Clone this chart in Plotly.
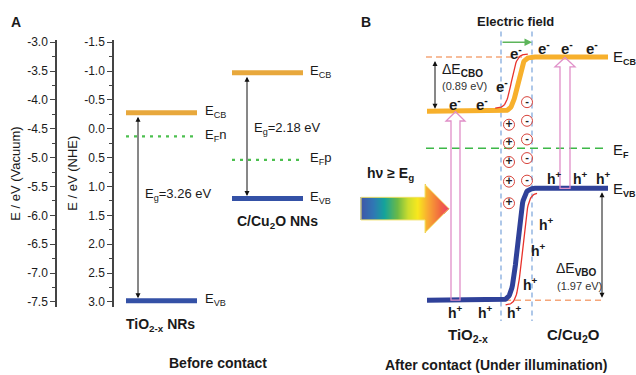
import numpy as np
import plotly.graph_objects as go

W, H = 636, 375
FONT = "Arial, Liberation Sans, sans-serif"
INK = "#1a1a1a"

# ---------------- DATA ----------------
# Panel A: band-edge positions (eV vs NHE) before contact
materials = ["TiO<sub>2-x</sub> NRs", "C/Cu<sub>2</sub>O NNs"]
cb_nhe = [-0.28, -0.97]
vb_nhe = [2.98, 1.21]
ef_nhe = [0.13, 0.54]
ef_tags = ["n", "p"]
band_gaps = [3.26, 2.18]
nhe_ticks = [-1.5, -1.0, -0.5, 0.0, 0.5, 1.0, 1.5, 2.0, 2.5, 3.0]
nhe_labels = ["-1.5", "-1.0", "-0.5", "0.0", "0.5", "1.0", "1.5", "2.0", "2.5", "3.0"]
vac_ticks = [-3.0, -3.5, -4.0, -4.5, -5.0, -5.5, -6.0, -6.5, -7.0, -7.5]
vac_labels = ["-3.0", "-3.5", "-4.0", "-4.5", "-5.0", "-5.5", "-6.0", "-6.5", "-7.0", "-7.5"]

# Panel B: schematic band edges after contact (eV relative to E_F)
b_cb = [-0.63, -1.55]      # TiO2-x, C/Cu2O
b_vb = [2.58, 0.68]
b_offsets = [0.89, 1.97]   # dE_CBO, dE_VBO
b_labels = ["TiO<sub>2-x</sub>", "C/Cu<sub>2</sub>O"]

# ---------------- LAYOUT HELPERS ----------------
NHE_PX = 58.78            # px per eV on panel-A axis
A_TOP, A_BOT = 36, 308    # axis extent (px rows)
nhe_top = -1.5 - (38 - A_TOP) / NHE_PX
nhe_bot = 3.0 + (A_BOT - 302.5) / NHE_PX
B_PX, EF_Y = 60.0, 146.0  # panel-B scale and E_F row


def bv(ypx):
    return (np.asarray(ypx, dtype=float) - EF_Y) / B_PX


def P(xp, yp):
    return xp / W, 1 - yp / H


C_CB_A, C_VB_A, C_EF_A = "#E8A83C", "#3451A6", "#4CC04F"
C_CB_B, C_VB_B = "#F7B02C", "#2F4199"
C_EF_B, C_ORD, C_BLD, C_PINK, C_RED = "#3DB848", "#F5A67A", "#79A3DA", "#E08FC8", "#E8322B"

fig = go.Figure()


def line(x, y, color, width, dash=None, yaxis="y3"):
    fig.add_trace(go.Scatter(x=x, y=y, mode="lines", xaxis="x", yaxis=yaxis,
                             line=dict(color=color, width=width, dash=dash),
                             hoverinfo="skip", showlegend=False))


annots = []


def text(xp, yp, s, size=13, bold=False, xanchor="center", color=INK, angle=0):
    x, y = P(xp, yp)
    annots.append(dict(x=x, y=y, xref="paper", yref="paper", text=(f"<b>{s}</b>" if bold else s),
                       showarrow=False, xanchor=xanchor, yanchor="middle", textangle=angle,
                       font=dict(family=FONT, size=size, color=color)))


def darrow(x, y0, y1, yref, color="#111", both=True, width=1.0):
    annots.append(dict(x=x, y=y1, ax=x, ay=y0, xref="x", yref=yref, axref="x", ayref=yref,
                       text="", showarrow=True, arrowhead=2, arrowsize=1, arrowwidth=width,
                       arrowcolor=color, arrowside="end+start" if both else "end",
                       standoff=2.5, startstandoff=2.5))


def sub(s, px=9, bold=True):
    inner = f"<b>{s}</b>" if bold else s
    return f"<sub><span style='font-size:{px}px'>{inner}</span></sub>"


# ---------------- PANEL A ----------------
bar_x = [(126, 197), (232, 303)]
arrow_x = [138, 247]
label_x = [203, 308]
eg_pos = [(143, 193), (252, 126)]
name_pos = [(160, 326), (277, 221)]
for i in range(2):
    x0, x1 = bar_x[i]
    line([x0, x1], [cb_nhe[i]] * 2, C_CB_A, 5, yaxis="y")
    line([x0, x1], [vb_nhe[i]] * 2, C_VB_A, 5, yaxis="y")
    line([x0, x1 - 2], [ef_nhe[i]] * 2, C_EF_A, 2.2, dash="3px,5px", yaxis="y")
    darrow(arrow_x[i], cb_nhe[i], vb_nhe[i], "y")
    for val, lab in [(cb_nhe[i], "E<sub>CB</sub>"), (vb_nhe[i], "E<sub>VB</sub>"),
                     (ef_nhe[i], "E<sub>F</sub>" + ef_tags[i])]:
        annots.append(dict(x=label_x[i], y=val, xref="x", yref="y", text=lab, showarrow=False,
                           xanchor="left", yanchor="middle", yshift=1,
                           font=dict(family=FONT, size=13, color=INK)))
    text(eg_pos[i][0], eg_pos[i][1], f"E<sub>g</sub>={band_gaps[i]:.2f} eV", 13, xanchor="left")
    text(name_pos[i][0], name_pos[i][1], materials[i], 14, bold=True)

# dummy trace so the vacuum axis is drawn
fig.add_trace(go.Scatter(x=[None], y=[None], xaxis="x", yaxis="y2", showlegend=False, hoverinfo="skip"))

text(16, 17, "A", 14, bold=True)
text(16, 172, "E / eV (Vacuum)", 13, angle=-90)
text(73, 172, "E / eV (NHE)", 13, angle=-90)
text(218, 365, "Before contact", 14, bold=True)

# ---------------- PANEL B ----------------
# depletion-region borders
for xv in (501, 532):
    line([xv, xv], bv([27, 322]), C_BLD, 1.2, dash="5px,4px")

# reference dashed lines
line([426, 533], [b_cb[1]] * 2, C_ORD, 1.6, dash="6px,4px")
line([505, 604], [b_vb[0]] * 2, C_ORD, 1.6, dash="6px,4px")
line([426, 607], [0, 0], C_EF_B, 1.6, dash="8px,5px")

# band bending curves
t = np.linspace(0, 1, 60)
k = 6.5
s = (np.tanh((t - 0.5) * k) / np.tanh(0.5 * k) + 1) / 2
cx = 500 + 35 * t
cb_curve = b_cb[0] + (b_cb[1] - b_cb[0]) * s
vb_curve = b_vb[0] + (b_vb[1] - b_vb[0]) * s
line([427] + list(cx) + [608], [b_cb[0]] + list(cb_curve) + [b_cb[1]], C_CB_B, 5)
line([427] + list(cx) + [608], [b_vb[0]] + list(vb_curve) + [b_vb[1]], C_VB_B, 5)

# electron / hole drift arrows (red)
rx = cx - 6
ry = cb_curve - 0.05
line(list(rx[2:-2]), list(ry[2:-2]), C_RED, 1.3)
annots.append(dict(x=rx[0], y=ry[0], ax=rx[4], ay=ry[4], xref="x", yref="y3", axref="x", ayref="y3",
                   text="", showarrow=True, arrowhead=2, arrowsize=1.1, arrowwidth=1.3, arrowcolor=C_RED))
hx = cx + 5
hy = vb_curve + 0.08
line(list(hx[1:-5]), list(hy[1:-5]), C_RED, 1.3)
annots.append(dict(x=hx[-3], y=hy[-3], ax=hx[-7], ay=hy[-7], xref="x", yref="y3", axref="x", ayref="y3",
                   text="", showarrow=True, arrowhead=2, arrowsize=1.1, arrowwidth=1.3, arrowcolor=C_RED))

# hollow excitation arrows
shapes = []
for (xc, shaft, head), cb, vb in [((455.5, 4.5, 9.5), b_cb[0], b_vb[0]), ((565, 5, 10), b_cb[1], b_vb[1])]:
    base = cb + 10 / B_PX
    path = (f"M {xc-shaft},{vb} L {xc-shaft},{base} L {xc-head},{base} L {xc},{cb + 0.5/B_PX} "
            f"L {xc+head},{base} L {xc+shaft},{base} L {xc+shaft},{vb} Z")
    shapes.append(dict(type="path", path=path, xref="x", yref="y3",
                       line=dict(color=C_PINK, width=1.3), fillcolor="rgba(0,0,0,0)"))

# offsets
darrow(435, b_cb[1], b_cb[0], "y3")
darrow(602, b_vb[1], b_vb[0], "y3")

# space charges
plus_y = [122, 141, 160, 180, 202]
minus_y = [99, 118, 137, 156, 179]
for xs_, ys_, sym in [(509, plus_y, "+"), (527, minus_y, "-")]:
    fig.add_trace(go.Scatter(x=[xs_] * len(ys_), y=bv(ys_), mode="markers+text", xaxis="x", yaxis="y3",
                             marker=dict(symbol="circle-open", size=11, color="#D8443C", line=dict(width=1)),
                             text=[f"<b>{sym}</b>"] * len(ys_), textposition="middle center",
                             textfont=dict(family=FONT, size=12 if sym == "+" else 11, color="#222"),
                             hoverinfo="skip", showlegend=False))

# rainbow light arrow (gradient)
gx = np.arange(361, 450)
gy = np.arange(183, 234)
GX, GY = np.meshgrid(gx, gy)
body = (GX <= 425) & (GY >= 196) & (GY <= 219)
head = (GX >= 425) & (np.abs(GY - 207.5) <= 24.5 * (449 - GX) / 24.0)
Z = np.where(body | head, (GX - 361) / 88.0, np.nan)
rainbow = [[0, "#3F57A8"], [0.14, "#2F78B4"], [0.26, "#14A39B"], [0.41, "#6BB946"],
           [0.53, "#CBDD2E"], [0.64, "#F8E71E"], [0.76, "#F8A733"], [0.9, "#F16640"], [1, "#EA3F72"]]
fig.add_trace(go.Heatmap(x=gx, y=bv(gy), z=Z, xaxis="x", yaxis="y3", colorscale=rainbow,
                         zmin=0, zmax=1, showscale=False, hoverinfo="skip", zsmooth=False))
ox = [361, 425, 425, 449, 425, 425, 361, 361]
oy = [196, 196, 183, 207.5, 232, 219, 219, 196]
line(ox, bv(oy), "#F2E26A", 1)

# electric-field arrow
x1_, y1_ = P(532, 38)
annots.append(dict(x=x1_, y=y1_, xref="paper", yref="paper", ax=-31, ay=0, text="", showarrow=True,
                   arrowhead=2, arrowsize=1, arrowwidth=1.5, arrowcolor="#5DB55A"))

# texts panel B
text(366, 17, "B", 14, bold=True)
text(515, 17, "Electric field", 13, bold=True)
for xp, yp in [(455, 100), (482, 100), (502, 82), (516, 48), (544, 43), (567, 43), (592, 43)]:
    text(xp, yp, "e<sup>-</sup>", 15, bold=True)
for xp, yp in [(554, 176), (580, 176), (603, 176), (546, 223), (538, 250), (530, 284),
               (455, 313), (485, 313), (514, 313)]:
    text(xp, yp, "h<sup>+</sup>", 14, bold=True)
text(390, 172, "h\u03bd \u2265 E<sub>g</sub>", 14, bold=True)
text(440, 66, "\u0394E" + sub("CBO", 10), 14, xanchor="left")
text(440, 83, f"({b_offsets[0]:.2f} eV)", 11, xanchor="left", color="#333")
text(554, 269, "\u0394E" + sub("VBO", 10), 14, xanchor="left")
text(555, 286, f"({b_offsets[1]:.2f} eV)", 11, xanchor="left", color="#333")
text(611, 54, "E" + sub("CB", 9), 15, xanchor="left")
text(611, 148, "E" + sub("F", 9), 15, xanchor="left")
text(611, 188, "E" + sub("VB", 9), 15, xanchor="left")
text(468, 337, b_labels[0], 15, bold=True)
text(573, 337, b_labels[1], 15, bold=True)
text(496, 367, "After contact (Under illumination)", 14, bold=True)

axis_common = dict(ticks="outside", ticklen=5, tickwidth=1.2, tickcolor="#444", showline=True,
                   linecolor="#444", linewidth=1.5, showgrid=False, zeroline=False, tickmode="array",
                   tickfont=dict(family=FONT, size=12, color=INK), anchor="free", side="left")

fig.update_layout(
    width=W, height=H, autosize=False, margin=dict(l=0, r=0, t=0, b=0),
    paper_bgcolor="white", plot_bgcolor="rgba(0,0,0,0)", showlegend=False,
    xaxis=dict(domain=[0, 1], range=[0, W], visible=False, anchor="y3", fixedrange=True),
    yaxis=dict(domain=[1 - A_BOT / H, 1 - A_TOP / H], range=[nhe_bot, nhe_top], position=113 / W,
               tickvals=nhe_ticks, ticktext=nhe_labels,
               minor=dict(tickmode="linear", tick0=-1.5, dtick=0.25, ticks="outside", ticklen=3,
                          tickcolor="#444", tickwidth=1), **axis_common),
    yaxis2=dict(overlaying="y", range=[-4.5 - nhe_bot, -4.5 - nhe_top], position=56 / W,
                tickvals=vac_ticks, ticktext=vac_labels,
                minor=dict(tickmode="linear", tick0=-3.0, dtick=0.25, ticks="outside", ticklen=3,
                           tickcolor="#444", tickwidth=1), **axis_common),
    yaxis3=dict(domain=[0, 1], range=[(H - EF_Y) / B_PX, -EF_Y / B_PX], visible=False, anchor="x"),
    annotations=annots, shapes=shapes,
)

fig.write_html("out.html", config={"displayModeBar": False})
